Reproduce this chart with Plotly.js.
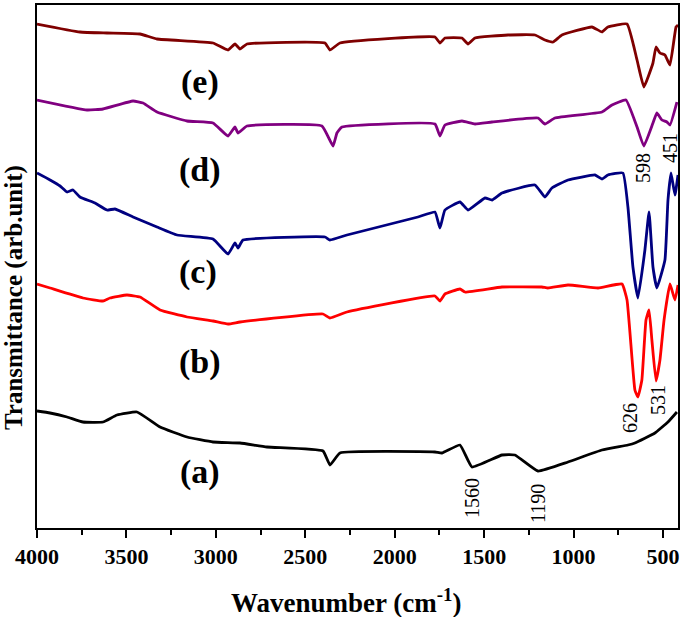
<!DOCTYPE html>
<html>
<head>
<meta charset="utf-8">
<script src="https://cdn.plot.ly/plotly-3.0.1.min.js"></script>
<style>html,body{margin:0;padding:0;background:#fff;}#chart{width:685px;height:617px;}</style>
</head>
<body>
<div id="chart"></div>
<script>
// (a) black
const wnA = [4000,3927,3832,3743,3631,3553,3441,3312,3161,3016,2865,2714,2401,2362,2306,1775,1736,1635,1568,1400,1328,1199,1031,841,696,657,545,472,422];
const tA  = [117,115,111,106,106,113,116,101,91,86,85,81,77,63,75,76,75,83,61,73,73,57,66,78,83,85,95,106,116];
// (b) red
const wnB = [4000,3927,3743,3631,3592,3497,3424,3312,3161,3016,2932,2865,2401,2362,2267,1775,1747,1719,1635,1607,1400,1177,1143,1031,863,729,701,657,640,618,595,578,562,539,517,494,461,433,416];
const tB  = [244,240,230,227,230,233,231,218,211,207,204,206,214,210,216,232,227,234,239,236,241,241,240,243,240,244,228,138,131,148,208,218,188,147,168,208,244,228,243];
// (c) navy
const wnC = [4000,3927,3871,3832,3799,3760,3676,3609,3564,3463,3329,3217,3016,2932,2893,2876,2848,2390,2362,2267,1870,1775,1747,1719,1635,1590,1495,1456,1400,1216,1160,1121,1031,880,841,808,724,696,668,640,601,578,556,534,489,472,455,433,416];
const tC  = [355,348,342,336,338,331,325,318,319,311,301,293,289,274,285,280,288,291,288,293,311,316,300,318,326,318,330,328,335,343,331,340,348,353,349,353,355,321,261,230,278,316,261,240,268,328,355,333,353];
// (d) purple
const wnD = [4000,3720,3631,3463,3407,3329,3161,3016,2932,2893,2876,2826,2407,2345,2323,2295,1775,1747,1719,1624,1551,1456,1199,1160,1104,841,785,707,645,607,556,534,506,478,461,422];
const tD  = [428,418,419,427,425,416,407,405,392,401,395,402,402,382,395,401,404,392,403,407,404,406,410,404,410,416,423,428,401,382,405,415,408,406,403,426];
// (e) dark red
const wnE = [4000,3760,3609,3424,3329,3016,2932,2893,2865,2826,2390,2362,2306,1775,1747,1719,1624,1590,1551,1367,1216,1160,1115,1065,897,841,808,701,645,607,556,539,517,489,461,427,416];
const tE  = [504,496,495,494,489,485,478,484,479,484,485,478,485,491,485,490,490,484,490,493,493,488,486,493,501,496,501,504,468,441,465,481,475,473,463,501,503];

const seriesLabels = ['(a)','(b)','(c)','(d)','(e)'];
const labelWn = [3090,3090,3100,3090,3090];
const labelT = [56,166,256,358,446];

const peakLabels = ['1560','1190','626','531','598','451'];
const peakWn = [1568,1199,685,528,612,461];
const peakT = [30,25,110,128,360,380];

const xTickVals = [4000,3500,3000,2500,2000,1500,1000,500];
const xTickText = ['4000','3500','3000','2500','2000','1500','1000','500'];

const colors = ['#000000','#ff0000','#000080','#800080','#7f0000'];
const xs = [wnA,wnB,wnC,wnD,wnE];
const ys = [tA,tB,tC,tD,tE];

const serif = 'Liberation Serif, Times New Roman, serif';
const traces = xs.map((x,i)=>({x:x,y:ys[i],type:'scatter',mode:'lines',line:{color:colors[i],width:2.8,shape:'spline',smoothing:0.35},hoverinfo:'skip'}));

const annotations = [];
seriesLabels.forEach((t,i)=>annotations.push({x:labelWn[i],y:labelT[i],xref:'x',yref:'y',text:'<b>'+t+'</b>',showarrow:false,font:{family:serif,size:34,color:'#000'}}));
peakLabels.forEach((t,i)=>annotations.push({x:peakWn[i],y:peakT[i],xref:'x',yref:'y',text:t,textangle:-90,showarrow:false,font:{family:serif,size:20,color:'#000'}}));
// axis titles
annotations.push({x:346,y:601,xref:'paper',yref:'paper',text:'<b>Wavenumber (cm<sup>-1</sup>)</b>',showarrow:false,font:{family:serif,size:27,color:'#000'}});
annotations.push({x:14,y:298,xref:'paper',yref:'paper',text:'<b>Transmittance (arb.unit)</b>',textangle:-90,showarrow:false,font:{family:serif,size:25,color:'#000'}});

// convert pixel positions of axis titles to paper coords
const L=37,R=7,T=5,B=89,W=685,H=617;
annotations.forEach(a=>{ if(a.xref==='paper'){ a.x=(a.x-L)/(W-L-R); a.y=1-(a.y-T)/(H-T-B); a.xanchor='center'; a.yanchor='middle'; } });

const layout = {
  width:W,height:H,
  margin:{l:L,r:R,t:T,b:B},
  paper_bgcolor:'#fff',plot_bgcolor:'#fff',
  showlegend:false,
  xaxis:{
    range:[4000,416],
    tickvals:xTickVals,
    ticktext:xTickText.map(s=>'<b>'+s+'</b>'),
    ticks:'outside',ticklen:8,tickwidth:2,tickcolor:'#000',
    minor:{dtick:250,tick0:0,ticks:'outside',ticklen:5,tickwidth:2,tickcolor:'#000'},
    showgrid:false,zeroline:false,
    showline:true,linecolor:'#000',linewidth:2,mirror:true,
    tickfont:{family:serif,size:22,color:'#000'}
  },
  yaxis:{
    range:[0,523],
    showticklabels:false,ticks:'',showgrid:false,zeroline:false,
    showline:true,linecolor:'#000',linewidth:2,mirror:true
  },
  annotations:annotations
};
Plotly.newPlot('chart',traces,layout,{staticPlot:true,displayModeBar:false});
</script>
</body>
</html>
